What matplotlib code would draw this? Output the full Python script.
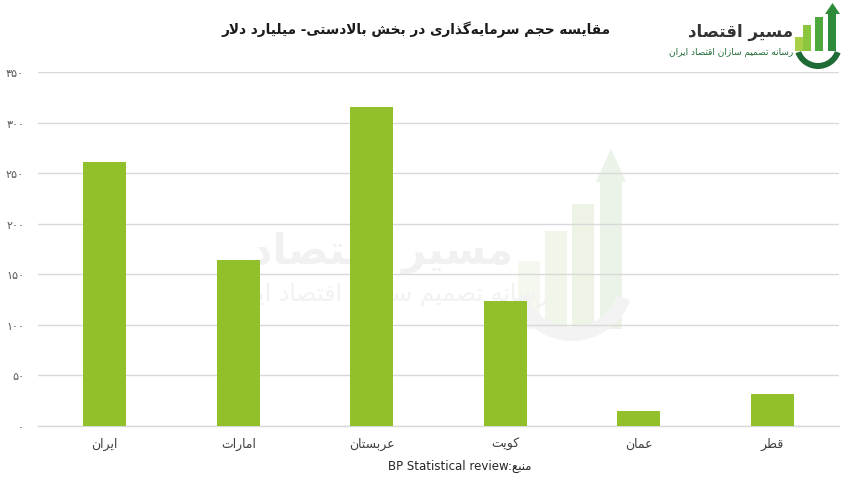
import unicodedata

import matplotlib
matplotlib.use("Agg")
import matplotlib.pyplot as plt
from matplotlib.patches import Rectangle, Polygon, Wedge

# ---- data ----
countries = ["ایران", "امارات", "عربستان", "کویت", "عمان", "قطر"]
investment = [261, 164, 315, 124, 15, 32]   # billion USD
y_ticks = [0, 50, 100, 150, 200, 250, 300, 350]

title = "مقایسه حجم سرمایه‌گذاری در بخش بالادستی- میلیارد دلار"
source_label = "منبع"
source_name = "BP Statistical review"
brand = "مسیر اقتصاد"
brand_sub = "رسانه تصمیم سازان اقتصاد ایران"

BAR_COLOR = "#92C02A"
GRID_COLOR = "#D9D9D9"

plt.rcParams["font.family"] = ["DejaVu Sans"]


# matplotlib does no Arabic shaping, so pick presentation forms by hand
def _forms(ch):
    try:
        name = unicodedata.name(ch)
    except ValueError:
        return None
    if not name.startswith("ARABIC LETTER"):
        return None
    out = {}
    for f in ("ISOLATED", "FINAL", "INITIAL", "MEDIAL"):
        try:
            out[f] = unicodedata.lookup(f"{name} {f} FORM")
        except KeyError:
            pass
    return out if "ISOLATED" in out else None


def _jtype(ch):
    f = _forms(ch)
    if f is None:
        return None
    return "D" if "INITIAL" in f else "R"


def fa(text):
    chars = list(text)
    n = len(chars)
    res = []
    i = 0
    while i < n:
        c = chars[i]
        f = _forms(c)
        if f is None:
            if c != "\u200c":
                res.append(c)
            i += 1
            continue
        joins_prev = i > 0 and _jtype(chars[i - 1]) == "D"
        if c == "\u0644" and i + 1 < n and chars[i + 1] == "\u0627":
            res.append("\ufefc" if joins_prev else "\ufefb")
            i += 2
            continue
        joins_next = "INITIAL" in f and i + 1 < n and _jtype(chars[i + 1]) is not None
        if joins_prev and joins_next:
            form = "MEDIAL"
        elif joins_prev:
            form = "FINAL"
        elif joins_next:
            form = "INITIAL"
        else:
            form = "ISOLATED"
        res.append(f.get(form, f["ISOLATED"]))
        i += 1
    return "".join(reversed(res))


def fa_digits(v):
    return str(v).translate(str.maketrans("0123456789", "۰۱۲۳۴۵۶۷۸۹"))


fig = plt.figure(figsize=(8.54, 4.81), dpi=100)

# background layer for watermark + logo (pixel coords, y down)
bg = fig.add_axes([0, 0, 1, 1], zorder=0)
bg.set_xlim(0, 854)
bg.set_ylim(481, 0)
bg.axis("off")

# faint watermark
bg.text(382, 253, fa(brand), fontsize=30, fontweight="bold", color="#F1F1F1",
        ha="center", va="center")
bg.text(385, 295, fa(brand_sub), fontsize=17, color="#F2F2F2",
        ha="center", va="center")
for x0, y0, h, col in [(518, 262, 68, "#F4F8EF"), (545, 232, 98, "#F0F6EA"),
                       (572, 205, 125, "#EDF4E6"), (600, 182, 148, "#EBF3E8")]:
    bg.add_patch(Rectangle((x0, y0), 22, h, color=col, lw=0))
bg.add_patch(Polygon([[596, 183], [626, 183], [611, 150]], color="#EBF3E8", lw=0))
bg.add_patch(Wedge((572, 280), 62, 20, 160, width=14, color="#F3F3F3", lw=0))

# top-right logo
for x0, y0, h, col in [(795, 38, 14, "#A8CF45"), (803, 26, 26, "#8CC63F"),
                       (815, 18, 34, "#4FA83D"), (828, 14, 38, "#2E8B3A")]:
    bg.add_patch(Rectangle((x0, y0), 8, h, color=col, lw=0))
bg.add_patch(Polygon([[825, 15], [840, 15], [832.5, 4]], color="#2E8B3A", lw=0))
bg.add_patch(Wedge((818, 46), 24, 20, 160, width=6, color="#1F6B35", lw=0))
bg.text(793, 32, fa(brand), fontsize=12, fontweight="bold", color="#333333",
        ha="right", va="center")
bg.text(793, 52, fa(brand_sub), fontsize=6.5, color="#1F6B35",
        ha="right", va="center")

# main chart
ax = fig.add_axes([38 / 854, 1 - 427 / 481, 801 / 854, 354 / 481], zorder=1)
ax.patch.set_visible(False)
x = list(range(len(countries)))
ax.bar(x, investment, width=0.32, color=BAR_COLOR, zorder=3)
ax.set_xlim(-0.5, len(countries) - 0.5)
ax.set_ylim(0, 350)
ax.set_yticks(y_ticks)
ax.set_yticklabels([fa_digits(v) for v in y_ticks], fontsize=8, color="#595959")
ax.set_xticks(x)
ax.set_xticklabels([fa(c) for c in countries], fontsize=9, color="#404040")
ax.yaxis.grid(True, color=GRID_COLOR, lw=1)
ax.axhline(0, color=GRID_COLOR, lw=1, clip_on=False, zorder=2)
ax.set_axisbelow(True)
for s in ax.spines.values():
    s.set_visible(False)
ax.tick_params(axis="both", length=0)
ax.tick_params(axis="x", pad=8)
ax.tick_params(axis="y", pad=10)

fig.text(416 / 854, 1 - 30 / 481, fa(title), fontsize=9.8, fontweight="bold",
         color="#1A1A1A", ha="center", va="center")
fig.text(460 / 854, 1 - 466 / 481, source_name + ":" + fa(source_label),
         fontsize=8.5, color="#262626", ha="center", va="center")

fig.savefig("out.png", dpi=100)
